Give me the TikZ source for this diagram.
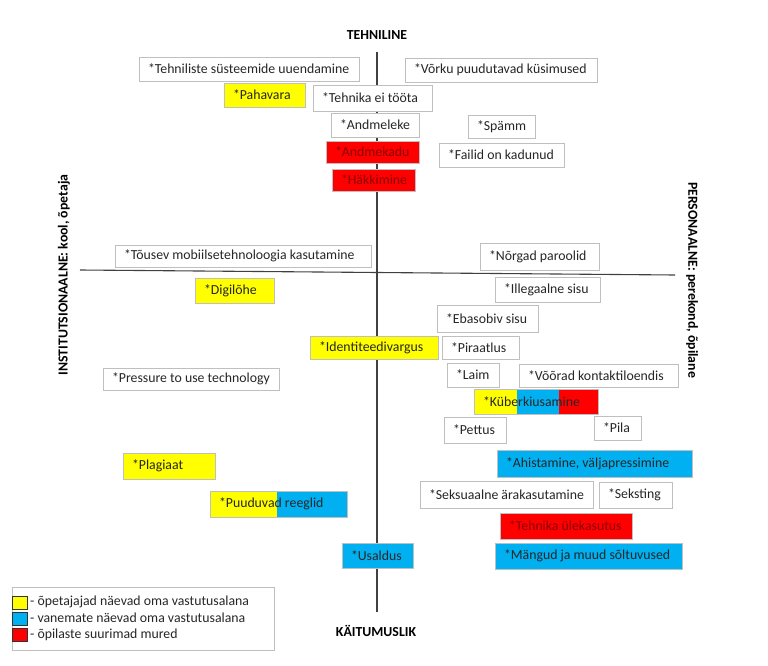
\documentclass[tikz,border=0pt]{standalone}
\usepackage{fontspec}
\setmainfont{Carlito}
\definecolor{bxgray}{HTML}{BFBFBF}
\definecolor{yel}{HTML}{FFFF00}
\definecolor{blu}{HTML}{00B0F0}
\definecolor{rd}{HTML}{FF0000}
\definecolor{txt}{HTML}{262626}
\definecolor{rtxt}{HTML}{8A0000}
\definecolor{axis}{HTML}{404040}
\tikzset{
  base/.style={rectangle, draw=bxgray, line width=0.8pt, inner xsep=9pt, inner ysep=0pt, outer sep=0pt, text=txt, font=\fontsize{13.8}{15}\selectfont},
  wbox/.style={base, fill=white},
  ybox/.style={base, fill=yel},
  bbox/.style={base, fill=blu},
  rbox/.style={base, fill=rd, text=rtxt},
  nbox/.style={base},
  axlabel/.style={font=\bfseries\fontsize{13.8}{15}\selectfont, text=black, inner sep=0pt},
  axisline/.style={draw=axis, line width=1.1pt},
  swatch/.style={draw=black!80, line width=0.6pt},
  legtext/.style={anchor=west, inner sep=0pt, text=txt, font=\fontsize{13.8}{15}\selectfont}
}
\newcommand{\bx}[7]{%
  \pgfmathsetmacro\bh{#5-#3}\pgfmathsetmacro\tw{#4-#2-18}%
  \node[#6, anchor=north west, minimum height=\bh pt] (#1) at (#2,#3) {\makebox[\tw pt][l]{#7}};%
}
\begin{document}
\begin{tikzpicture}[x=1pt,y=-1pt]
\useasboundingbox (0,0) rectangle (768,666);
% axes
\coordinate (vtop) at (377,52);
\coordinate (vbot) at (377,612);
\coordinate (hleft) at (80,270);
\coordinate (hright) at (675,275);
\draw[axisline] (vtop) -- (vbot);
\draw[axisline] (hleft) -- (hright);
% axis labels
\node[axlabel] (ltop) at (377,35) {TEHNILINE};
\node[axlabel] (lbot) at (376,631) {KÄITUMUSLIK};
\node[axlabel, rotate=90] (lleft) at (64,275) {INSTITUTSIONAALNE: kool, õpetaja};
\node[axlabel, rotate=-90] (lright) at (692,280) {PERSONAALNE: perekond, õpilane};
% boxes
\bx{b1}{139}{57}{359}{81}{wbox}{*Tehniliste süsteemide uuendamine}
\bx{b2}{405}{58}{597}{82}{wbox}{*Võrku puudutavad küsimused}
\bx{b3}{224}{83}{305}{107}{ybox}{*Pahavara}
\bx{b4}{313}{85}{432}{111}{wbox}{*Tehnika ei tööta}
\bx{b5}{331}{113}{419}{137}{wbox}{*Andmeleke}
\bx{b6}{468}{115}{535}{138}{wbox}{*Spämm}
\bx{b7}{326}{141}{419}{163}{rbox}{*Andmekadu}
\bx{b8}{439}{143}{564}{167}{wbox}{*Failid on kadunud}
\bx{b9}{332}{169}{415}{191}{rbox}{*Häkkimine}
\bx{b10}{115}{245}{371}{267}{wbox}{*Tõusev mobiilsetehnoloogia kasutamine}
\bx{b11}{480}{243}{599}{270}{wbox}{*Nõrgad paroolid}
\bx{b12}{195}{278}{274}{303}{ybox}{*Digilõhe}
\bx{b13}{495}{277}{600}{302}{wbox}{*Illegaalne sisu}
\bx{b14}{437}{305}{538}{332}{wbox}{*Ebasobiv sisu}
\bx{b15}{310}{336}{438}{359}{ybox}{*Identiteedivargus}
\bx{b16}{442}{336}{519}{359}{wbox}{*Piraatlus}
\bx{b17}{103}{368}{279}{390}{wbox}{*Pressure to use technology}
\bx{b18}{447}{363}{499}{387}{wbox}{*Laim}
\bx{b19}{519}{364}{678}{387}{wbox}{*Võõrad kontaktiloendis}
% Küberkiusamine (three colours)
\fill[yel] (474,389) rectangle (517,414);
\fill[blu] (517,389) rectangle (559,414);
\fill[rd] (559,389) rectangle (598,414);
\bx{b20}{474}{389}{598}{414}{nbox}{*Küberkiusamine}
\bx{b21}{444}{417}{506}{443}{wbox}{*Pettus}
\bx{b22}{594}{416}{641}{440}{wbox}{*Pila}
\bx{b23}{497}{450}{692}{477}{bbox}{*Ahistamine, väljapressimine}
\bx{b24}{123}{453}{215}{479}{ybox}{*Plagiaat}
\bx{b25}{420}{481}{593}{508}{wbox}{*Seksuaalne ärakasutamine}
\bx{b26}{599}{482}{672}{508}{wbox}{*Seksting}
% Puuduvad reeglid (two colours)
\fill[yel] (210,491) rectangle (277,517);
\fill[blu] (277,491) rectangle (347,517);
\bx{b27}{210}{491}{347}{517}{nbox}{*Puuduvad reeglid}
\bx{b28}{500}{513}{632}{539}{rbox}{*Tehnika ülekasutus}
\bx{b29}{342}{543}{413}{568}{bbox}{*Usaldus}
\bx{b30}{495}{543}{682}{569}{bbox}{*Mängud ja muud sõltuvused}
% legend
\node[draw=bxgray, line width=0.8pt, anchor=north west, minimum width=262pt, minimum height=63pt, inner sep=0pt] (leg) at (12,587) {};
\node[swatch, fill=yel, anchor=north west, minimum width=15pt, minimum height=13pt, inner sep=0pt] (s1) at (12,596) {};
\node[swatch, fill=blu, anchor=north west, minimum width=15pt, minimum height=13pt, inner sep=0pt] (s2) at (12,612) {};
\node[swatch, fill=rd, anchor=north west, minimum width=15pt, minimum height=13pt, inner sep=0pt] (s3) at (12,628) {};
\node[legtext] (t1) at (30,602) {- õpetajajad näevad oma vastutusalana};
\node[legtext] (t2) at (30,618) {- vanemate näevad oma vastutusalana};
\node[legtext] (t3) at (30,635) {- õpilaste suurimad mured};
\end{tikzpicture}
\end{document}
